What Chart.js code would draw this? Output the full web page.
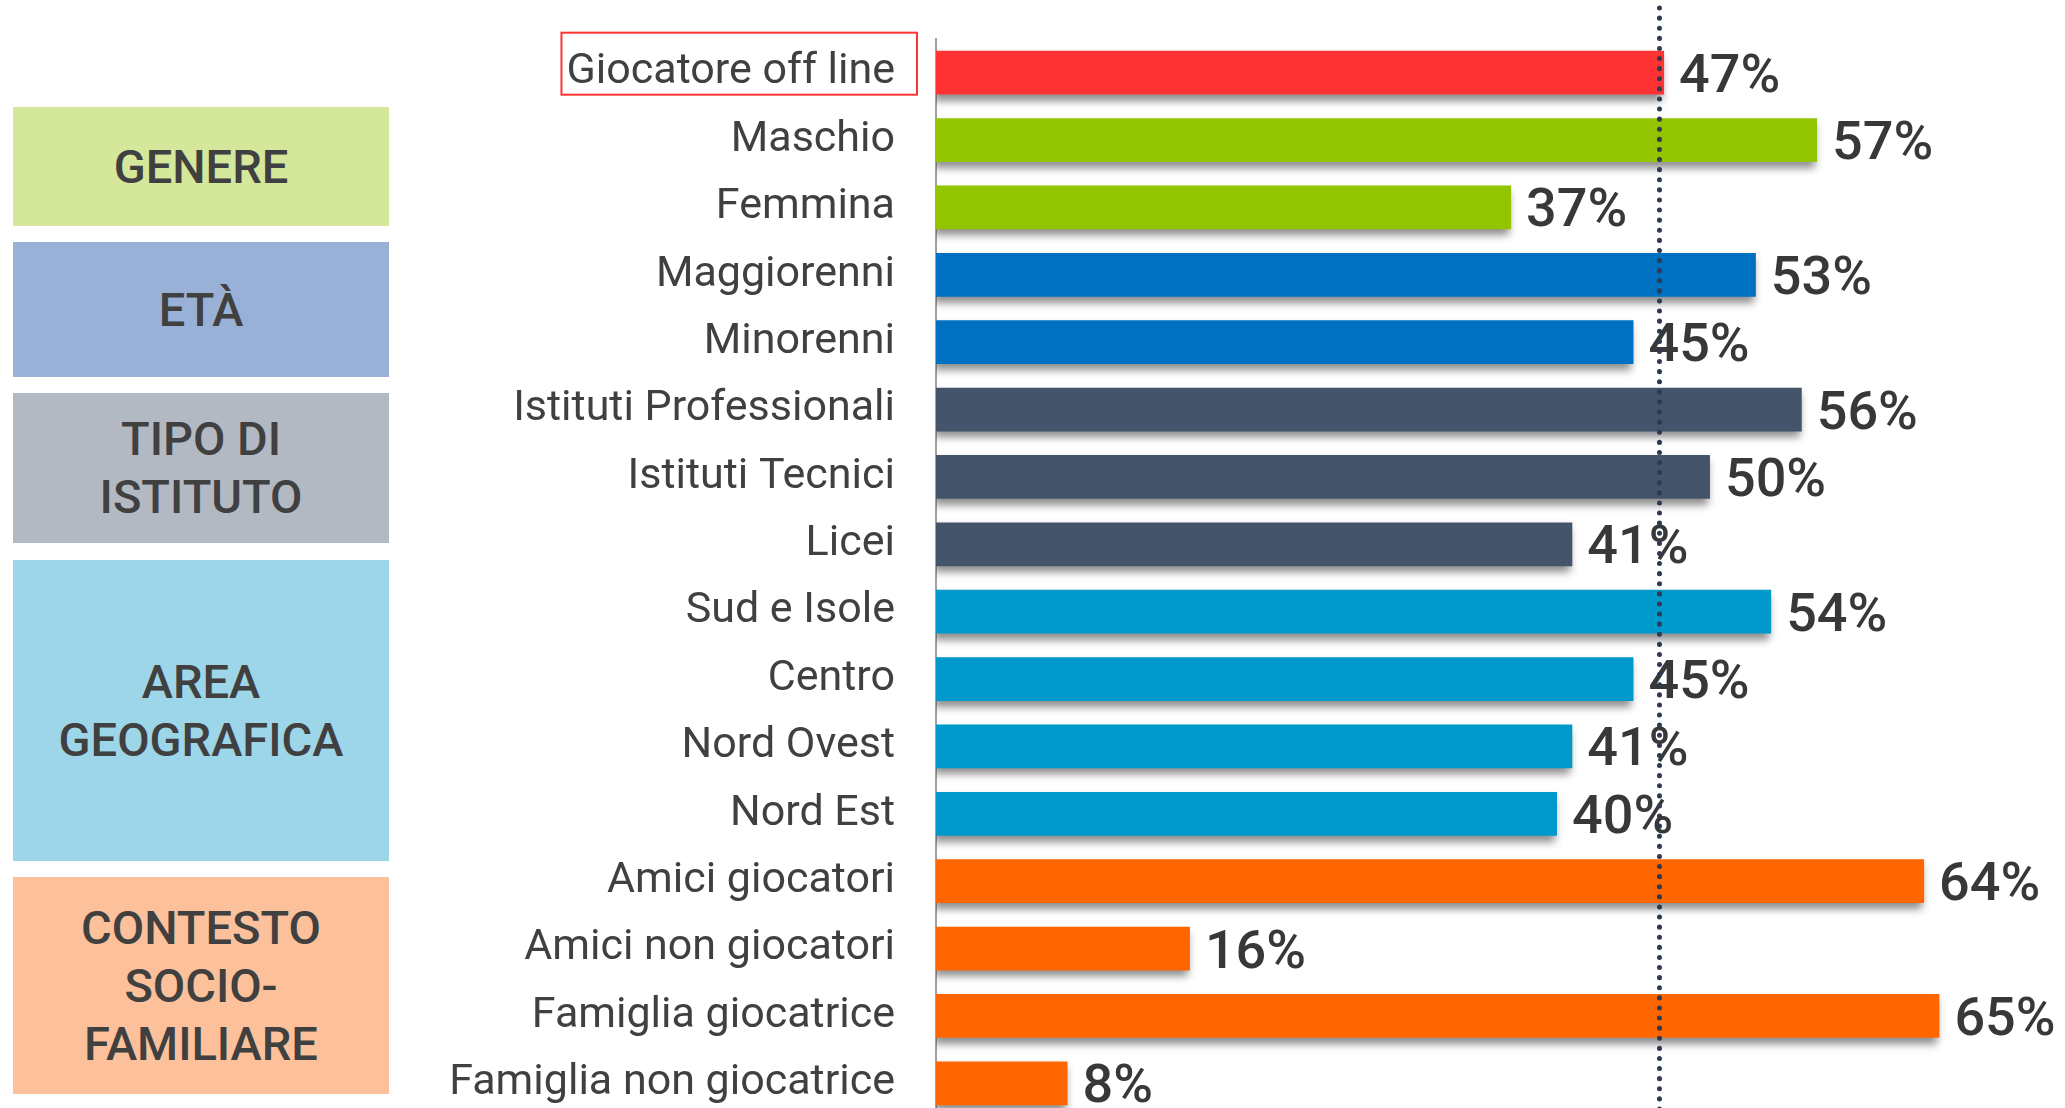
<!DOCTYPE html>
<html>
<head>
<meta charset="utf-8">
<script src="https://cdn.jsdelivr.net/npm/chart.js@4.4.1/dist/chart.umd.min.js"></script>
<style>
  html, body { margin: 0; padding: 0; background: #fff; overflow: hidden; }
  #wrap { position: relative; width: 2065px; height: 1117px; }
  #chart { position: absolute; left: 0; top: 0; }
  .group {
    position: absolute; left: 13px; width: 376px;
    display: flex; align-items: center; justify-content: center; text-align: center;
    font-family: Roboto, sans-serif; font-weight: 500; font-size: 47px; line-height: 58px;
    color: #404040;
  }
</style>
</head>
<body>
<div id="wrap">
  <div class="group" style="top:107px;height:119px;background:#d4e79b;">GENERE</div>
  <div class="group" style="top:242px;height:135px;background:#99b1d7;">ETÀ</div>
  <div class="group" style="top:393px;height:150px;background:#b3b9c3;">TIPO DI<br>ISTITUTO</div>
  <div class="group" style="top:560px;height:301px;background:#9dd5e9;">AREA<br>GEOGRAFICA</div>
  <div class="group" style="top:877px;height:217px;background:#fcc19b;">CONTESTO<br>SOCIO-<br>FAMILIARE</div>
  <canvas id="chart" width="2065" height="1117"></canvas>
</div>
<script>
// categories and values
const categories = [
  'Giocatore off line', 'Maschio', 'Femmina', 'Maggiorenni', 'Minorenni',
  'Istituti Professionali', 'Istituti Tecnici', 'Licei',
  'Sud e Isole', 'Centro', 'Nord Ovest', 'Nord Est',
  'Amici giocatori', 'Amici non giocatori', 'Famiglia giocatrice', 'Famiglia non giocatrice'
];
const values = [47, 57, 37, 53, 45, 56, 50, 41, 54, 45, 41, 40, 64, 16, 65, 8];
const referenceValue = 46.7; // dotted line ~ Giocatore off line

const barColors = [
  '#ff3333', '#92c400', '#92c400', '#0070c0', '#0070c0',
  '#44546a', '#44546a', '#44546a',
  '#0099cc', '#0099cc', '#0099cc', '#0099cc',
  '#ff6600', '#ff6600', '#ff6600', '#ff6600'
];

const textColor = '#404040';
const labelFont = '43px Roboto, sans-serif';
const axisMin = -0.6;

// drop shadow under the bars
const barShadow = {
  id: 'barShadow',
  beforeDatasetDraw(chart) {
    const ctx = chart.ctx;
    ctx.save();
    ctx.shadowColor = 'rgba(0,0,0,0.45)';
    ctx.shadowBlur = 8;
    ctx.shadowOffsetX = -2;
    ctx.shadowOffsetY = 6;
  },
  afterDatasetDraw(chart) {
    chart.ctx.restore();
  }
};

// percent labels at the end of each bar
const valueLabels = {
  id: 'valueLabels',
  afterDatasetsDraw(chart) {
    const ctx = chart.ctx;
    const meta = chart.getDatasetMeta(0);
    ctx.save();
    ctx.font = '500 54px Roboto, sans-serif';
    ctx.fillStyle = '#383838';
    ctx.textAlign = 'left';
    ctx.textBaseline = 'alphabetic';
    meta.data.forEach((bar, i) => {
      ctx.fillText(values[i] + '%', bar.x + 15, bar.y + 19);
    });
    ctx.restore();
  }
};

// dotted reference line + red box around the first label
const extras = {
  id: 'extras',
  afterDraw(chart) {
    const ctx = chart.ctx;
    const x = chart.scales.x.getPixelForValue(referenceValue);
    ctx.save();
    ctx.strokeStyle = '#2e3a50';
    ctx.lineWidth = 5;
    ctx.lineCap = 'round';
    ctx.setLineDash([0.1, 10]);
    ctx.beginPath();
    ctx.moveTo(x, 8);
    ctx.lineTo(x, chart.height);
    ctx.stroke();
    ctx.restore();

    const y = chart.scales.y;
    const yc = y.getPixelForTick(0);
    ctx.save();
    ctx.font = labelFont;
    const w = ctx.measureText(categories[0]).width;
    const right = y.right - 41;
    ctx.strokeStyle = '#ff3333';
    ctx.lineWidth = 2;
    ctx.strokeRect(right - w - 5, yc - 40, w + 27, 62);
    ctx.restore();
  }
};

new Chart(document.getElementById('chart'), {
  type: 'bar',
  data: {
    labels: categories,
    datasets: [{
      data: values,
      base: axisMin,
      backgroundColor: barColors,
      borderWidth: 0,
      barPercentage: 0.65,
      categoryPercentage: 1
    }]
  },
  options: {
    indexAxis: 'y',
    responsive: false,
    animation: false,
    layout: { padding: { top: 39, right: 17, bottom: 0, left: 0 } },
    plugins: { legend: { display: false }, tooltip: { enabled: false } },
    scales: {
      x: { display: false, min: axisMin, max: 72.1 },
      y: {
        afterFit(scale) {
          scale.width = 936;
          scale.paddingTop = 0;
          scale.paddingBottom = 0;
        },
        grid: { display: false, drawTicks: false },
        border: { display: true, color: '#a0a0a0', width: 2 },
        ticks: {
          padding: 41,
          color: textColor,
          font: { family: 'Roboto, sans-serif', size: 43 }
        }
      }
    }
  },
  plugins: [barShadow, valueLabels, extras]
});
</script>
</body>
</html>
